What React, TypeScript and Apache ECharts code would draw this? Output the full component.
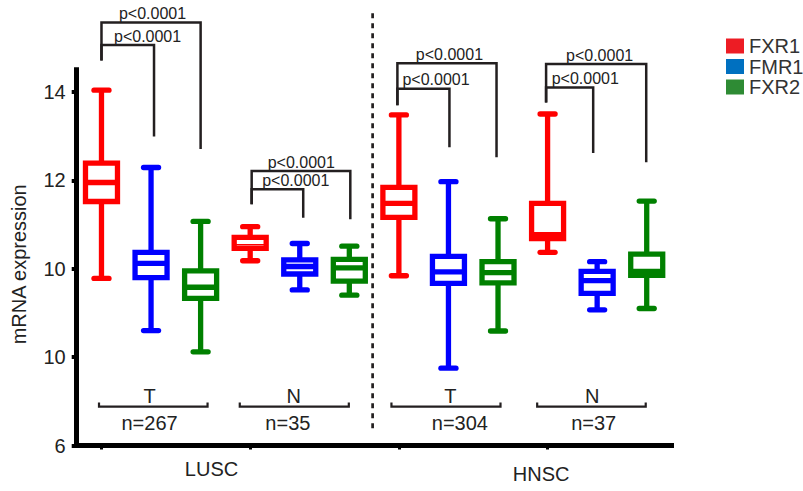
import React, { useEffect, useRef } from "react";
import * as echarts from "echarts";

// ---------- data ----------
const categories = [
  "LUSC T FXR1", "LUSC T FMR1", "LUSC T FXR2",
  "LUSC N FXR1", "LUSC N FMR1", "LUSC N FXR2",
  "HNSC T FXR1", "HNSC T FMR1", "HNSC T FXR2",
  "HNSC N FXR1", "HNSC N FMR1", "HNSC N FXR2",
];
const seriesNames = ["FXR1", "FMR1", "FXR2"];
// [categoryIndex, min, Q1, median, Q3, max]
const fxr1Boxes = [
  [0, 9.78, 11.52, 11.95, 12.39, 14.04],
  [3, 10.18, 10.46, 10.54, 10.71, 10.95],
  [6, 9.84, 11.16, 11.48, 11.84, 13.48],
  [9, 10.37, 10.68, 10.77, 11.48, 13.5],
];
const fmr1Boxes = [
  [1, 8.6, 9.8, 10.12, 10.37, 12.29],
  [4, 9.52, 9.88, 10.05, 10.2, 10.57],
  [7, 7.75, 9.67, 9.93, 10.28, 11.97],
  [10, 9.07, 9.44, 9.73, 9.94, 10.16],
];
const fxr2Boxes = [
  [2, 8.12, 9.33, 9.58, 9.95, 11.07],
  [5, 9.4, 9.72, 10.02, 10.21, 10.51],
  [8, 8.59, 9.68, 9.91, 10.16, 11.13],
  [11, 9.1, 9.85, 9.94, 10.33, 11.53],
];
const yTickValues = [6, 8, 10, 12, 14];
const yTickLabels = ["6", "10", "10", "12", "14"];
const yAxisTitle = "mRNA expression";
const pLabel = "p<0.0001";
// [leftIdx, rightIdx, barValue, leftLegEnd, rightLegEnd, labelIdx]
const comparisons = [
  [0, 2.0, 15.57, 14.71, 12.71, 1.03],
  [0, 1.06, 15.06, 14.71, 12.99, 0.93],
  [3.03, 5.02, 12.21, 11.46, 11.12, 4.03],
  [3.03, 4.07, 11.8, 11.46, 11.15, 3.92],
  [5.97, 7.97, 14.65, 13.7, 12.52, 7.02],
  [5.97, 7.02, 14.07, 13.7, 12.75, 6.75],
  [8.97, 10.99, 14.63, 13.76, 12.41, 10.05],
  [8.97, 9.92, 14.1, 13.76, 12.62, 9.76],
];
const groupTypes = ["T", "N", "T", "N"];
const groupCounts = ["n=267", "n=35", "n=304", "n=37"];
const groupFrom = [-0.05, 2.79, 5.85, 8.79];
const groupTo = [2.14, 4.99, 8.05, 10.98];
const groupTypeAt = [0.97, 3.88, 7.04, 9.9];
const groupCountAt = [0.97, 3.76, 7.23, 9.93];
const cancerNames = ["LUSC", "HNSC"];
const cancerAt = [2.22, 8.87];

export default function App() {
  const ref = useRef<HTMLDivElement>(null);
  useEffect(() => {
    document.body.style.margin = "0";
    const chart = echarts.init(ref.current!, null, { renderer: "svg" });
    const font = "'Liberation Sans', Arial, Helvetica, sans-serif";
    const ink = "#231f20";
    const boxColors = ["#ff0000", "#0000ff", "#008000"];
    const legendColors = ["#ed1c24", "#0070c0", "#2e8b34"];
    const seriesData = [fxr1Boxes, fmr1Boxes, fxr2Boxes];

    const makeRender = (color: string) => (_params: any, api: any) => {
      const idx = api.value(0);
      const p = (v: number) => api.coord([idx, v]);
      const [cx, yMin] = p(api.value(1));
      const yQ1 = p(api.value(2))[1];
      const yMed = p(api.value(3))[1];
      const yQ3 = p(api.value(4))[1];
      const yMax = p(api.value(5))[1];
      const hw = 16;
      const cap = 7.5;
      const lw = 5.3;
      const boxH = yQ1 - yQ3;
      const line = (x1: number, y1: number, x2: number, y2: number, w = lw, lc = "butt") => ({
        type: "line",
        shape: { x1, y1, x2, y2 },
        style: { stroke: color, lineWidth: w, lineCap: lc },
      });
      return {
        type: "group",
        children: [
          line(cx, yMax, cx, yQ3),
          line(cx, yQ1, cx, yMin),
          line(cx - cap, yMax, cx + cap, yMax, lw, "round"),
          line(cx - cap, yMin, cx + cap, yMin, lw, "round"),
          {
            type: "rect",
            shape: { x: cx - hw, y: yQ3, width: 2 * hw, height: boxH },
            style: { fill: "#fff", stroke: color, lineWidth: lw },
          },
          line(cx - hw, yMed, cx + hw, yMed, boxH < 13 ? 1.5 : lw),
        ],
      };
    };

    const option: any = {
      animation: false,
      backgroundColor: "#fff",
      grid: { left: 76.7, right: 803 - 671.5, top: 69.8, bottom: 491 - 445.5, containLabel: false },
      legend: {
        orient: "vertical",
        left: 721,
        top: 31,
        itemWidth: 18,
        itemHeight: 15,
        itemGap: 0.5,
        icon: "rect",
        selectedMode: false,
        data: seriesNames,
        textStyle: { fontSize: 20, color: "#333", fontFamily: font },
      },
      xAxis: {
        type: "category",
        data: categories,
        boundaryGap: true,
        axisLine: { lineStyle: { color: "#000", width: 5, cap: "square" } },
        axisTick: { show: true, alignWithLabel: true, length: 4, lineStyle: { color: "#000", width: 3 } },
        axisLabel: { show: false },
        splitLine: { show: false },
      },
      yAxis: {
        type: "value",
        min: 6,
        max: 14.5,
        axisLine: { show: true, lineStyle: { color: "#000", width: 5, cap: "square" } },
        axisTick: { show: true, customValues: yTickValues, length: 5, lineStyle: { color: "#000", width: 4 } },
        axisLabel: {
          customValues: yTickValues,
          formatter: (v: number) => {
            const i = yTickValues.indexOf(v);
            return i >= 0 ? yTickLabels[i] : "";
          },
          fontSize: 20,
          color: "#222",
          fontFamily: font,
          margin: 11,
        },
        splitLine: { show: false },
      },
      series: seriesNames.map((name, i) => ({
        type: "custom",
        name,
        itemStyle: { color: legendColors[i] },
        renderItem: makeRender(boxColors[i]),
        encode: { x: 0, y: [1, 2, 3, 4, 5] },
        data: seriesData[i],
        z: 3,
      })),
    };
    chart.setOption(option);

    const x0 = chart.convertToPixel({ xAxisIndex: 0 }, 0) as unknown as number;
    const x1 = chart.convertToPixel({ xAxisIndex: 0 }, 1) as unknown as number;
    const step = x1 - x0;
    const X = (i: number) => x0 + i * step;
    const Y = (v: number) => chart.convertToPixel({ yAxisIndex: 0 }, v) as unknown as number;

    const g: any[] = [];
    comparisons.forEach(([l, r, bar, lEnd, rEnd, lab]) => {
      g.push({
        type: "polyline",
        silent: true,
        shape: { points: [[X(l), Y(lEnd)], [X(l), Y(bar)], [X(r), Y(bar)], [X(r), Y(rEnd)]] },
        style: { stroke: ink, lineWidth: 2.5, fill: "none" },
      });
      g.push({
        type: "text",
        silent: true,
        x: X(lab),
        y: Y(bar) - 1,
        style: { text: pLabel, fontSize: 16, fontFamily: font, fill: "#222", align: "center", verticalAlign: "bottom" },
      });
    });
    const bracketY = Y(6.88);
    groupTypes.forEach((t, i) => {
      g.push({
        type: "polyline",
        silent: true,
        shape: { points: [[X(groupFrom[i]), bracketY - 4], [X(groupFrom[i]), bracketY], [X(groupTo[i]), bracketY], [X(groupTo[i]), bracketY - 4]] },
        style: { stroke: ink, lineWidth: 2.2, fill: "none" },
      });
      g.push({
        type: "text", silent: true, x: X(groupTypeAt[i]), y: Y(7.12),
        style: { text: t, fontSize: 20, fontFamily: font, fill: "#222", align: "center", verticalAlign: "middle" },
      });
      g.push({
        type: "text", silent: true, x: X(groupCountAt[i]), y: Y(6.5),
        style: { text: groupCounts[i], fontSize: 20, fontFamily: font, fill: "#222", align: "center", verticalAlign: "middle" },
      });
    });
    const cancerY = [Y(5.46), Y(5.36)];
    cancerNames.forEach((c, i) => {
      g.push({
        type: "text", silent: true, x: X(cancerAt[i]), y: cancerY[i],
        style: { text: c, fontSize: 20, fontFamily: font, fill: "#222", align: "center", verticalAlign: "middle" },
      });
    });
    g.push({
      type: "line", silent: true,
      shape: { x1: X(5.47), y1: Y(15.78), x2: X(5.47), y2: Y(6.31) },
      style: { stroke: ink, lineWidth: 2.7, lineDash: [5, 5] },
    });
    g.push({
      type: "text", silent: true, x: X(-0.5) - 57.7, y: Y(10.1), rotation: Math.PI / 2,
      style: { text: yAxisTitle, fontSize: 20, fontFamily: font, fill: "#222", align: "center", verticalAlign: "middle" },
    });
    chart.setOption({ graphic: g });

    return () => chart.dispose();
  }, []);
  return <div ref={ref} style={{ width: 803, height: 491 }} />;
}
